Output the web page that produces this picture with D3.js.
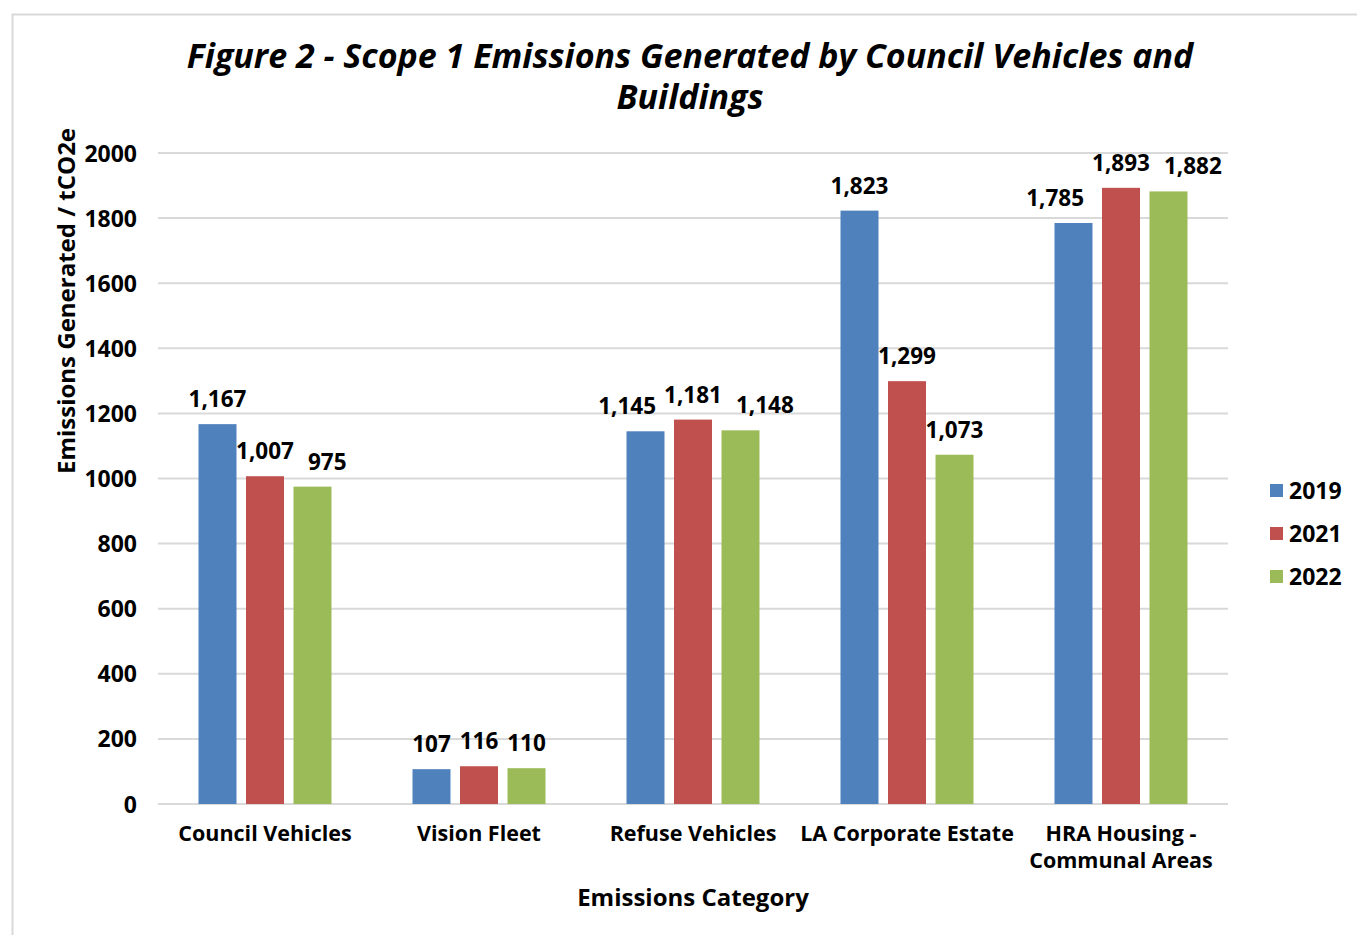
<!DOCTYPE html>
<html>
<head>
<meta charset="utf-8">
<script src="https://cdn.jsdelivr.net/npm/d3@7"></script>
<style>
  body { margin: 0; background: #fff; }
  svg text { font-family: "Open Sans", "Noto Sans", sans-serif; font-weight: bold; fill: #000; }
</style>
</head>
<body>
<script>
// chart data
const categories = ["Council Vehicles", "Vision Fleet", "Refuse Vehicles", "LA Corporate Estate", "HRA Housing - Communal Areas"]
const years = ["2019", "2021", "2022"]
const values2019 = [1167, 107, 1145, 1823, 1785]
const values2021 = [1007, 116, 1181, 1299, 1893]
const values2022 = [975, 110, 1148, 1073, 1882]
const yTicks = [0, 200, 400, 600, 800, 1000, 1200, 1400, 1600, 1800, 2000]
const colors = ["#4F81BD", "#C0504D", "#9BBB59"]

// category labels as they wrap in the picture
const categoryLines = {
  "HRA Housing - Communal Areas": ["HRA Housing -", "Communal Areas"]
}

const width = 1357
const height = 935
const margin = ({top: 153, right: 129, bottom: 131, left: 158})

const series = [values2019, values2021, values2022]
const rows = categories.map((c, i) => ({
  category: c,
  values: years.map((y, j) => ({year: y, value: series[j][i], cat: c}))
}))

const svg = d3.create("svg")
  .attr("width", width)
  .attr("height", height)
// in the page early so text can be measured
document.body.appendChild(svg.node())

// outer chart border (runs off the right / bottom edges)
svg.append("rect")
  .attr("x", 12.5).attr("y", 14.5)
  .attr("width", width + 20).attr("height", height + 20)
  .attr("fill", "white")
  .attr("stroke", "#d9d9d9")
  .attr("stroke-width", 2)

const x0 = d3.scaleBand()
  .domain(categories)
  .range([margin.left, width - margin.right])
  .padding(0)

const x1 = d3.scaleBand()
  .domain(years)
  .range([40.5, x0.bandwidth() - 40.5])
  .paddingInner(0.2)

const y = d3.scaleLinear()
  .domain([0, 2000])
  .range([height - margin.bottom, margin.top])

// gridlines
svg.append("g")
  .selectAll("line")
  .data(yTicks)
  .join("line")
    .attr("x1", margin.left)
    .attr("x2", width - margin.right)
    .attr("y1", d => y(d))
    .attr("y2", d => y(d))
    .attr("stroke", "#d9d9d9")
    .attr("stroke-width", 2)

// y axis labels
const yAxis = g => g
  .attr("transform", `translate(${margin.left - 21},0)`)
  .call(d3.axisLeft(y).tickValues(yTicks).tickSize(0).tickPadding(0).tickFormat(d3.format("d")))
  .call(g => g.select(".domain").remove())
  .call(g => g.selectAll("text").attr("font-size", 23).attr("dy", "0.35em"))
svg.append("g").call(yAxis)

// x axis labels
const xLab = svg.append("g")
  .selectAll("text")
  .data(categories)
  .join("text")
    .attr("x", d => x0(d) + x0.bandwidth() / 2)
    .attr("y", 841)
    .attr("text-anchor", "middle")
    .attr("font-size", 21.5)
xLab.each(function (d) {
  const lines = categoryLines[d] || [d]
  d3.select(this).selectAll("tspan")
    .data(lines)
    .join("tspan")
      .attr("x", x0(d) + x0.bandwidth() / 2)
      .attr("dy", (l, i) => i === 0 ? 0 : 27)
      .text(l => l)
})

// bars
const groups = svg.append("g")
  .selectAll("g")
  .data(rows)
  .join("g")
    .attr("transform", d => `translate(${x0(d.category)},0)`)

groups.selectAll("rect")
  .data(d => d.values)
  .join("rect")
    .attr("x", d => x1(d.year))
    .attr("y", d => y(d.value))
    .attr("width", x1.bandwidth())
    .attr("height", d => y(0) - y(d.value))
    .attr("fill", (d, i) => colors[i])

// data labels, pushed sideways where they would clash (as Excel does)
const fmt = d3.format(",")
const labels = groups.selectAll("text")
  .data(d => d.values)
  .join("text")
    .attr("x", d => x1(d.year) + x1.bandwidth() / 2)
    .attr("y", d => y(d.value) - 17)
    .attr("text-anchor", "middle")
    .attr("font-size", 22.5)
    .text(d => fmt(d.value))

groups.each(function () {
  const t = d3.select(this).selectAll("text").nodes()
  const info = t.map(n => {
    const w = n.getComputedTextLength()
    const cx = +n.getAttribute("x")
    return {n, w, cx, yy: +n.getAttribute("y")}
  })
  const mid = info[1]
  const gap = 8
  const left = info[0], right = info[2]
  if (Math.abs(left.yy - mid.yy) < 40 && left.cx + left.w / 2 > mid.cx - mid.w / 2 - gap) {
    left.n.setAttribute("x", mid.cx - mid.w / 2 - gap - left.w / 2)
  }
  if (Math.abs(right.yy - mid.yy) < 40 && right.cx - right.w / 2 < mid.cx + mid.w / 2 + gap) {
    right.n.setAttribute("x", mid.cx + mid.w / 2 + gap + 6 + right.w / 2)
  }
})

// title
svg.append("text")
  .attr("x", 690)
  .attr("text-anchor", "middle")
  .attr("font-size", 34)
  .attr("font-style", "italic")
  .selectAll("tspan")
  .data(["Figure 2 - Scope 1 Emissions Generated by Council Vehicles and", "Buildings"])
  .join("tspan")
    .attr("x", 690)
    .attr("y", (d, i) => 68 + i * 41)
    .text(d => d)

// axis titles
svg.append("text")
  .attr("transform", "translate(75,301) rotate(-90)")
  .attr("text-anchor", "middle")
  .attr("font-size", 24)
  .text("Emissions Generated / tCO2e")

svg.append("text")
  .attr("x", 693)
  .attr("y", 906)
  .attr("text-anchor", "middle")
  .attr("font-size", 24)
  .text("Emissions Category")

// legend
const legend = svg.append("g")
  .selectAll("g")
  .data(years)
  .join("g")
    .attr("transform", (d, i) => `translate(1270,${491 + i * 43})`)
legend.append("rect")
  .attr("x", 0).attr("y", -7)
  .attr("width", 13).attr("height", 13)
  .attr("fill", (d, i) => colors[i])
legend.append("text")
  .attr("x", 19)
  .attr("dy", "0.35em")
  .attr("font-size", 23)
  .text(d => d)
</script>
</body>
</html>
